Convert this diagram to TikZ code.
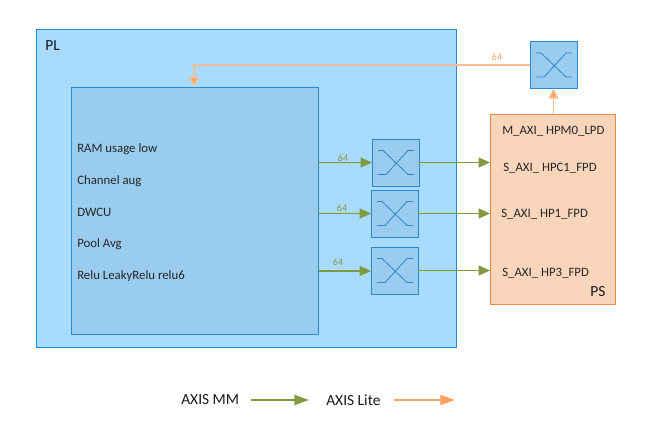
\documentclass[tikz,border=0pt]{standalone}
\usepackage{fontspec}
\setmainfont{Carlito}
\usetikzlibrary{arrows.meta}
\definecolor{plfill}{HTML}{A9DBFF}
\definecolor{plline}{HTML}{2A88D2}
\definecolor{blockfill}{HTML}{99CCEE}
\definecolor{psfill}{HTML}{F9D6BB}
\definecolor{psline}{HTML}{F08A3C}
\definecolor{mmgreen}{HTML}{7F9A3F}
\definecolor{liteorange}{HTML}{F8A45F}
\definecolor{litethin}{HTML}{F8BE96}
\definecolor{xline}{HTML}{2F86CF}
\newcommand{\xsym}[1]{%
  \draw[xline,line width=0.6pt,shift={(#1.center)}]
    (-17.5,12) -- (-9.5,12) -- (12.5,-12) -- (18.5,-12)
    (-17.5,-12) -- (-12.5,-12) -- (12.5,12) -- (18.5,12);}
\tikzset{
  x=0.75pt,y=-0.75pt,
  box/.style={draw,anchor=north west,inner sep=0pt,outer sep=0pt},
  plbox/.style={box,fill=plfill,draw=plline,line width=0.7pt},
  blockbox/.style={box,fill=blockfill,draw=plline,line width=0.7pt},
  switchbox/.style={box,fill=blockfill,draw=plline,line width=0.7pt,minimum width=35.25pt,minimum height=35.25pt},
  psbox/.style={box,fill=psfill,draw=psline,line width=0.7pt},
  lbl/.style={anchor=west,inner sep=0pt,font=\fontsize{9.6}{11}\selectfont,text=black!85},
  bigl/.style={anchor=west,inner sep=0pt,font=\fontsize{11.6}{13}\selectfont,text=black!90},
  num/.style={inner sep=0pt,font=\fontsize{7.5}{9}\selectfont},
  mm/.style={draw=mmgreen,line width=0.8pt,-{Triangle[length=8.5pt,width=7.5pt,fill=mmgreen]}},
  lite/.style={draw=litethin,line width=1.1pt,-{Triangle[length=7.5pt,width=7.5pt,fill=liteorange]}},
  legmm/.style={draw=mmgreen,line width=1.5pt,-{Triangle[length=11pt,width=7.5pt,fill=mmgreen]}},
  leglite/.style={draw=liteorange,line width=1.5pt,-{Triangle[length=11pt,width=7.5pt,fill=liteorange]}},
}
\begin{document}
\begin{tikzpicture}
\useasboundingbox (0,0) rectangle (665,437);
\node[plbox,minimum width=315pt,minimum height=238.5pt] (pl) at (36,29) {};
\node[blockbox,minimum width=185.25pt,minimum height=185.25pt] (core) at (71,87) {};
\node[switchbox] (s1) at (372,139) {};
\node[switchbox] (s2) at (371,190) {};
\node[switchbox] (s3) at (371,247) {};
\node[switchbox] (s0) at (530,41.5) {};
\node[psbox,minimum width=93.75pt,minimum height=142.5pt] (ps) at (490,114) {};
\xsym{s1}\xsym{s2}\xsym{s3}\xsym{s0}

\node[bigl] (pltext) at (45,45.5) {PL};
\node[bigl] (pstext) at (590,291.5) {PS};
\node[lbl] (t1) at (77,149) {RAM usage low};
\node[lbl] (t2) at (77,181) {Channel aug};
\node[lbl] (t3) at (77,212.5) {DWCU};
\node[lbl] (t4) at (77,244.5) {Pool Avg};
\node[lbl] (t5) at (77,276) {Relu LeakyRelu relu6};
\node[lbl] (p0) at (502,131) {M\_AXI\_ HPM0\_LPD};
\node[lbl] (p1) at (503,168) {S\_AXI\_ HPC1\_FPD};
\node[lbl] (p2) at (501,214.5) {S\_AXI\_ HP1\_FPD};
\node[lbl] (p3) at (502,273.5) {S\_AXI\_ HP3\_FPD};

\coordinate (c1) at (318,162.5);
\coordinate (c2) at (318,213.5);
\coordinate (c3) at (319,271);
\draw[mm] (c1) -- (c1 -| s1.west);
\draw[mm] (c2) -- (c2 -| s2.west);
\draw[mm] (c3) -- (c3 -| s3.west);
\draw[mm] (s1.east) -- (s1.east -| ps.west);
\draw[mm] (s2.east) -- (s2.east -| ps.west);
\draw[mm] (s3.east) -- (s3.east -| ps.west);
\coordinate (topin) at (194,87);
\draw[lite] (s0.west) -- (s0.west -| topin) -- (topin);
\draw[lite] (ps.north -| s0.south) -- (s0.south);

\node[num,text=mmgreen] (n1) at (343,158) {64};
\node[num,text=mmgreen] (n2) at (342,208) {64};
\node[num,text=mmgreen] (n3) at (338,262) {64};
\node[num,text=liteorange] (n0) at (497,57) {64};

\node[bigl] (lm) at (181,400) {AXIS MM};
\coordinate (lm1) at (251,400);
\coordinate (lm2) at (309,400);
\draw[legmm] (lm1) -- (lm2);
\node[bigl] (ll) at (326,400) {AXIS Lite};
\coordinate (ll1) at (394,400);
\coordinate (ll2) at (455,400);
\draw[leglite] (ll1) -- (ll2);
\end{tikzpicture}
\end{document}
